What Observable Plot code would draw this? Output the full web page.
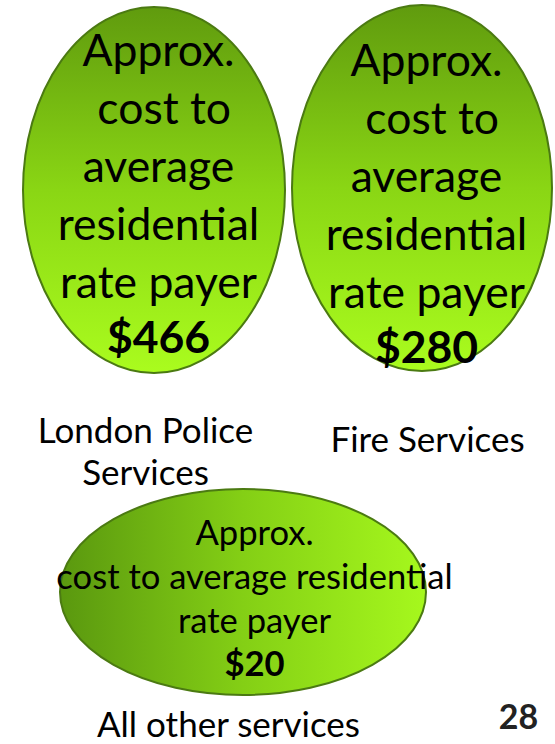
<!DOCTYPE html>
<html><head><meta charset="utf-8">
<script src="https://cdn.jsdelivr.net/npm/d3@7"></script>
<script src="https://cdn.jsdelivr.net/npm/@observablehq/plot@0.6"></script>
<style>
html,body{margin:0;padding:0;background:#fff;}
#chart svg{display:block;}
</style></head><body><div id="chart"></div>
<script>
// ---- data ----
const services = ["London Police\nServices", "Fire Services", "All other services"];
const costs = [466, 280, 20];
const captions = [
  "Approx.\n cost to\naverage\nresidential\nrate payer",
  "Approx.\n cost to\naverage\nresidential\nrate payer",
  "Approx.\ncost to average residential\nrate payer"
];
const pageNumber = "28";

// ---- layout (pixel frame of the slide) ----
const layout = [
  {cx: 154, cy: 190, rx: 131, ry: 183, tx: 158, capY: 297, valY: 352, fs: 44.5, lh: 1.30, lx: 145, ly: 484, grad: "gv"},
  {cx: 422, cy: 188, rx: 130, ry: 183, tx: 426, capY: 307, valY: 362, fs: 44.5, lh: 1.30, lx: 427, ly: 451, grad: "gv"},
  {cx: 243, cy: 592, rx: 183, ry: 103, tx: 254, capY: 632, valY: 675, fs: 34.6, lh: 1.27, lx: 228, ly: 736, grad: "gh"}
];

const rows = services.map((s, i) => ({service: s, cost: costs[i], caption: captions[i], ...layout[i]}));
const FONT = "Lato, 'Open Sans', sans-serif";

const ellipse = (d) => Plot.rect([d], {
  x1: r => r.cx - r.rx, x2: r => r.cx + r.rx,
  y1: r => r.cy - r.ry, y2: r => r.cy + r.ry,
  rx: d.rx, ry: d.ry,
  fill: `url(#${d.grad})`, stroke: "#4b7a12", strokeWidth: 2
});

const plot = Plot.plot({
  width: 555, height: 744,
  margin: 0,
  x: {domain: [0, 555], range: [0, 555], axis: null},
  y: {domain: [0, 744], range: [0, 744], axis: null},
  style: {fontFamily: FONT, background: "#fff"},
  marks: [
    ...rows.map(ellipse),
    ...rows.map(d => Plot.text([d], {
      x: "tx", y: "capY", text: "caption", fontSize: d.fs, lineHeight: d.lh,
      lineAnchor: "bottom", fill: "#000", textAnchor: "middle"
    })),
    ...rows.map(d => Plot.text([d], {
      x: "tx", y: "valY", text: r => "$" + r.cost, fontSize: d.fs, fontWeight: "bold",
      lineAnchor: "bottom", fill: "#000"
    })),
    Plot.text(rows, {
      x: "lx", y: "ly", text: "service", fontSize: 35, lineHeight: 1.2,
      lineAnchor: "bottom", fill: "#000"
    }),
    Plot.text([pageNumber], {
      x: () => 518, y: () => 728, text: d => d, fontSize: 34, fontWeight: "bold",
      lineAnchor: "bottom", fill: "#222"
    })
  ]
});

const defs = d3.select(plot).insert("defs", ":first-child");
const gv = defs.append("linearGradient").attr("id", "gv").attr("x1", 0).attr("y1", 0).attr("x2", 0).attr("y2", 1);
gv.append("stop").attr("offset", "0%").attr("stop-color", "#609b0e");
gv.append("stop").attr("offset", "50%").attr("stop-color", "#8ad614");
gv.append("stop").attr("offset", "100%").attr("stop-color", "#aafc1e");
const gh = defs.append("linearGradient").attr("id", "gh").attr("x1", 0).attr("y1", 0).attr("x2", 1).attr("y2", 0);
gh.append("stop").attr("offset", "0%").attr("stop-color", "#5a980f");
gh.append("stop").attr("offset", "50%").attr("stop-color", "#84cf15");
gh.append("stop").attr("offset", "100%").attr("stop-color", "#a6f81d");

document.getElementById("chart").appendChild(plot);
</script></body></html>
